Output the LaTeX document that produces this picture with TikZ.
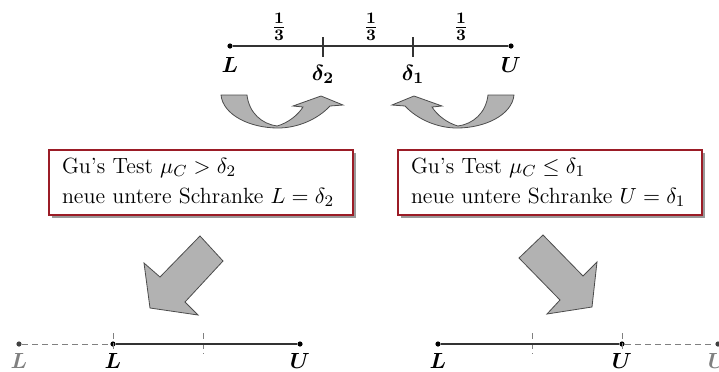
\documentclass[tikz,border=0pt]{standalone}
\usetikzlibrary{shadows}
\definecolor{boxred}{RGB}{155,28,38}
\begin{document}
\begin{tikzpicture}[x=0.5pt,y=-0.5pt,
  font=\fontsize{11}{15}\selectfont,
  dot/.style={circle,fill=black,inner sep=0pt,minimum size=2.6pt},
  gdot/.style={circle,fill=black!75,inner sep=0pt,minimum size=2.6pt},
  lbl/.style={font=\fontsize{11}{13}\selectfont\boldmath,inner sep=1pt},
  glbl/.style={lbl,text=gray},
  infobox/.style={draw=boxred,line width=1pt,fill=white,text width=139pt,
    inner xsep=6.5pt,align=left,minimum height=32.5pt,
    drop shadow={shadow xshift=1.5pt,shadow yshift=-1.5pt,fill=gray!80,opacity=1}},
  bigarrow/.style={fill=black!30,draw=black!70,line width=0.4pt,line join=miter},
  guide/.style={gray,densely dashed,line width=0.35pt},
  axisline/.style={black!80,line width=0.55pt},
]
\useasboundingbox (0,0) rectangle (719,371);

% ---------- top scale ----------
\node[dot] (tL) at (230,46) {};
\node[dot] (tU) at (511,46) {};
\coordinate (d2t) at (323,37); \coordinate (d2b) at (323,57);
\coordinate (d1t) at (413,37); \coordinate (d1b) at (413,57);
\draw[axisline] (tL) -- (tU);
\draw[axisline] (d2t) -- (d2b);
\draw[axisline] (d1t) -- (d1b);
\node[lbl,anchor=north] (lblL) at (230,55) {$L$};
\node[lbl,anchor=north] (lblU) at (511,55) {$U$};
\node[lbl,anchor=north] (lbld2) at (323,63) {$\delta_2$};
\node[lbl,anchor=north] (lbld1) at (413,63) {$\delta_1$};
\node[lbl] (f1) at (279,27) {$\frac{1}{3}$};
\node[lbl] (f2) at (371,27) {$\frac{1}{3}$};
\node[lbl] (f3) at (461,27) {$\frac{1}{3}$};

% ---------- curved arrows ----------
\def\uturn{%
  (221,95) -- (247,95)
  .. controls (249,113) and (262,124) .. (277,126)
  .. controls (288,123) and (298,115) .. (303,107)
  -- (293,106) -- (321,96) -- (343,105) -- (330,106)
  .. controls (318,119) and (298,128) .. (278,128)
  .. controls (250,128) and (223,115) .. (221,95) -- cycle}
\draw[bigarrow] \uturn;
\begin{scope}[xshift=735*0.5pt,xscale=-1]
  \draw[bigarrow] \uturn;
\end{scope}

% ---------- boxes ----------
\node[infobox] (boxL) at (201,182.5)
  {Gu's Test $\mu_C > \delta_2$\\neue untere Schranke $L = \delta_2$};
\node[infobox] (boxR) at (550,182.5)
  {Gu's Test $\mu_C \le \delta_1$\\neue untere Schranke $U = \delta_1$};

% ---------- big arrows ----------
\draw[bigarrow] (200,236) -- (223,261) -- (185,302) -- (198,315) -- (150,308)
  -- (144,263) -- (160,277) -- cycle;
\draw[bigarrow] (543,235) -- (519,258) -- (560,300) -- (547,314) -- (592,307)
  -- (597,262) -- (583,276) -- cycle;

% ---------- bottom left ----------
\node[gdot] (blL0) at (19,344) {};
\node[dot] (blL) at (113,344) {};
\node[dot] (blU) at (300,344) {};
\coordinate (blt1) at (113,333); \coordinate (blb1) at (113,352);
\coordinate (blt2) at (203,333); \coordinate (blb2) at (203,354);
\draw[guide] (blL0) -- (blL);
\draw[guide] (blt1) -- (blb1);
\draw[guide] (blt2) -- (blb2);
\draw[axisline] (blL) -- (blU);
\node[glbl,anchor=north] (blLl0) at (19,351) {$L$};
\node[lbl,anchor=north] (blLl) at (113,351) {$L$};
\node[lbl,anchor=north] (blUl) at (300,351) {$U$};

% ---------- bottom right ----------
\node[dot] (brL) at (438,344) {};
\node[dot] (brU) at (622,344) {};
\node[gdot] (brU0) at (718,344) {};
\coordinate (brt1) at (532,333); \coordinate (brb1) at (532,354);
\coordinate (brt2) at (622,333); \coordinate (brb2) at (622,352);
\draw[guide] (brU) -- (brU0);
\draw[guide] (brt1) -- (brb1);
\draw[guide] (brt2) -- (brb2);
\draw[axisline] (brL) -- (brU);
\node[lbl,anchor=north] (brLl) at (438,351) {$L$};
\node[lbl,anchor=north] (brUl) at (622,351) {$U$};
\node[glbl,anchor=north] (brUl0) at (718,351) {$U$};
\end{tikzpicture}
\end{document}
